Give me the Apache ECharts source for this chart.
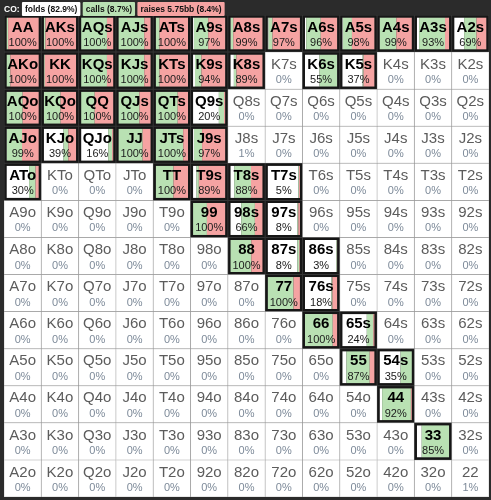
<!DOCTYPE html>
<html>
<head>
<meta charset="utf-8">
<script src="https://cdn.jsdelivr.net/npm/echarts@6/dist/echarts.min.js"></script>
<style>
html,body{margin:0;padding:0;background:#2b2b2b;}
#chart{width:491px;height:500px;}
</style>
</head>
<body>
<div id="chart"></div>
<script>
// ---- data ----
const position = 'CO';
const ranks = ['A','K','Q','J','T','9','8','7','6','5','4','3','2'];
const legendFolds = 82.9;
const legendCalls = 8.7;
const legendRaises = 8.4;
const raiseSize = '5.75bb';

// call frequency (%) per cell, rows = first rank, cols = second rank
const callPct = [
  [5, 5, 80, 80, 12, 44, 8, 12, 45, 28, 51, 80, 38],
  [12, 3, 80, 80, 12, 20, 8, 0, 55, 3, 0, 0, 0],
  [50, 52, 42, 65, 68, 16, 0, 0, 0, 0, 0, 0, 0],
  [47, 15, 12, 75, 85, 25, 1, 0, 0, 0, 0, 0, 0],
  [20, 0, 0, 0, 55, 7, 52, 2, 0, 0, 0, 0, 0],
  [0, 0, 0, 0, 0, 43, 42, 3, 0, 0, 0, 0, 0],
  [0, 0, 0, 0, 0, 0, 65, 6, 2, 0, 0, 0, 0],
  [0, 0, 0, 0, 0, 0, 0, 80, 3, 0, 0, 0, 0],
  [0, 0, 0, 0, 0, 0, 0, 0, 86, 20, 0, 0, 0],
  [0, 0, 0, 0, 0, 0, 0, 0, 0, 72, 35, 0, 0],
  [0, 0, 0, 0, 0, 0, 0, 0, 0, 0, 89, 0, 0],
  [0, 0, 0, 0, 0, 0, 0, 0, 0, 0, 0, 85, 0],
  [0, 0, 0, 0, 0, 0, 0, 0, 0, 0, 0, 0, 1]
];
// raise frequency (%) per cell
const raisePct = [
  [95, 95, 20, 20, 88, 53, 91, 85, 51, 70, 48, 13, 31],
  [88, 97, 20, 20, 88, 74, 81, 0, 0, 34, 0, 0, 0],
  [50, 48, 58, 35, 32, 4, 0, 0, 0, 0, 0, 0, 0],
  [52, 24, 4, 25, 15, 72, 0, 0, 0, 0, 0, 0, 0],
  [10, 0, 0, 0, 45, 82, 36, 3, 0, 0, 0, 0, 0],
  [0, 0, 0, 0, 0, 57, 24, 5, 0, 0, 0, 0, 0],
  [0, 0, 0, 0, 0, 0, 35, 2, 1, 0, 0, 0, 0],
  [0, 0, 0, 0, 0, 0, 0, 20, 15, 0, 0, 0, 0],
  [0, 0, 0, 0, 0, 0, 0, 0, 14, 4, 0, 0, 0],
  [0, 0, 0, 0, 0, 0, 0, 0, 0, 15, 0, 0, 0],
  [0, 0, 0, 0, 0, 0, 0, 0, 0, 0, 3, 0, 0],
  [0, 0, 0, 0, 0, 0, 0, 0, 0, 0, 0, 0, 0],
  [0, 0, 0, 0, 0, 0, 0, 0, 0, 0, 0, 0, 0]
];

// ---- build ----
const GREEN = '#b9e1b3';
const RED = '#f5a3a2';
const FONT = '"Liberation Sans", Arial, sans-serif';

function handName(r, c) {
  if (r === c) return ranks[r] + ranks[c];
  const a = Math.min(r, c), b = Math.max(r, c);
  return ranks[a] + ranks[b] + (c > r ? 's' : 'o');
}

const cells = [];
for (let r = 0; r < 13; r++) {
  for (let c = 0; c < 13; c++) {
    cells.push([c, r, callPct[r][c], raisePct[r][c], handName(r, c)]);
  }
}

const chart = echarts.init(document.getElementById('chart'), null, {renderer: 'canvas'});

const LS = 8.5;
chart.setOption({
  backgroundColor: '#2b2b2b',
  animation: false,
  title: {
    left: 4, top: 2,
    padding: 0,
    text: '{co|' + position + ':} {f|folds (' + legendFolds + '%)} {c|calls (' + legendCalls + '%)} {r|raises ' + raiseSize + ' (' + legendRaises + '%)}',
    textStyle: {
      fontSize: LS, fontFamily: FONT, color: '#fff',
      rich: {
        co: {color: '#ffffff', fontWeight: 'bold', fontSize: LS, fontFamily: FONT, padding: [3, 0, 2, 0]},
        f: {backgroundColor: '#ffffff', color: '#111', fontSize: LS, fontFamily: FONT, padding: [3, 3, 2, 3], borderRadius: 1},
        c: {backgroundColor: GREEN, color: '#111', fontSize: LS, fontFamily: FONT, padding: [3, 3, 2, 3], borderRadius: 1},
        r: {backgroundColor: RED, color: '#111', fontSize: LS, fontFamily: FONT, padding: [3, 3, 2, 3], borderRadius: 1}
      }
    }
  },
  grid: {left: 4, right: 2, top: 15, bottom: 3},
  xAxis: {type: 'category', data: ranks, show: false},
  yAxis: {type: 'category', data: ranks, inverse: true, show: false},
  series: [{
    type: 'custom',
    data: cells,
    encode: {x: 0, y: 1},
    renderItem: function (params, api) {
      const cc = api.coord([api.value(0), api.value(1)]);
      const sz = api.size([1, 1]);
      const w = sz[0], h = sz[1];
      const x0 = cc[0] - w / 2, y0 = cc[1] - h / 2;
      const call = api.value(2), raise = api.value(3);
      const name = cells[params.dataIndex][4];
      const total = call + raise;
      const active = total >= 2;
      const children = [];
      if (!active) {
        children.push({type: 'rect', shape: {x: x0, y: y0, width: w, height: h}, style: {fill: '#d3d3d3'}});
        children.push({type: 'rect', shape: {x: x0 + 0.5, y: y0 + 0.5, width: w - 1, height: h - 1}, style: {fill: '#ffffff'}});
      } else {
        children.push({type: 'rect', shape: {x: x0, y: y0, width: w, height: h}, style: {fill: '#383838'}});
        const ix = x0 + 2.5, iy = y0 + 2.5, iw = w - 5, ih = h - 5;
        const fold = 100 - total;
        const wf = iw * fold / 100, wc = iw * call / 100, wr = iw * raise / 100;
        children.push({type: 'rect', shape: {x: ix, y: iy, width: wf, height: ih}, style: {fill: '#ffffff'}});
        children.push({type: 'rect', shape: {x: ix + wf, y: iy, width: wc, height: ih}, style: {fill: GREEN}});
        children.push({type: 'rect', shape: {x: ix + wf + wc, y: iy, width: wr, height: ih}, style: {fill: RED}});
        children.push({type: 'rect', shape: {x: x0 + 1.5, y: y0 + 1.5, width: w - 3, height: h - 3}, style: {fill: 'none', stroke: '#161616', lineWidth: 2}});
      }
      children.push({
        type: 'text',
        style: {
          x: cc[0], y: cc[1] - 6, text: name,
          align: 'center', verticalAlign: 'middle',
          font: (active ? 'bold 15px ' : '15px ') + FONT,
          fill: active ? '#000000' : '#5c5c5c'
        }
      });
      children.push({
        type: 'text',
        style: {
          x: cc[0], y: cc[1] + 9.5, text: Math.round(total) + '%',
          align: 'center', verticalAlign: 'middle',
          font: '11px ' + FONT,
          fill: active ? '#1a1a1a' : '#7d8a99'
        }
      });
      return {type: 'group', children: children};
    }
  }]
});
</script>
</body>
</html>
